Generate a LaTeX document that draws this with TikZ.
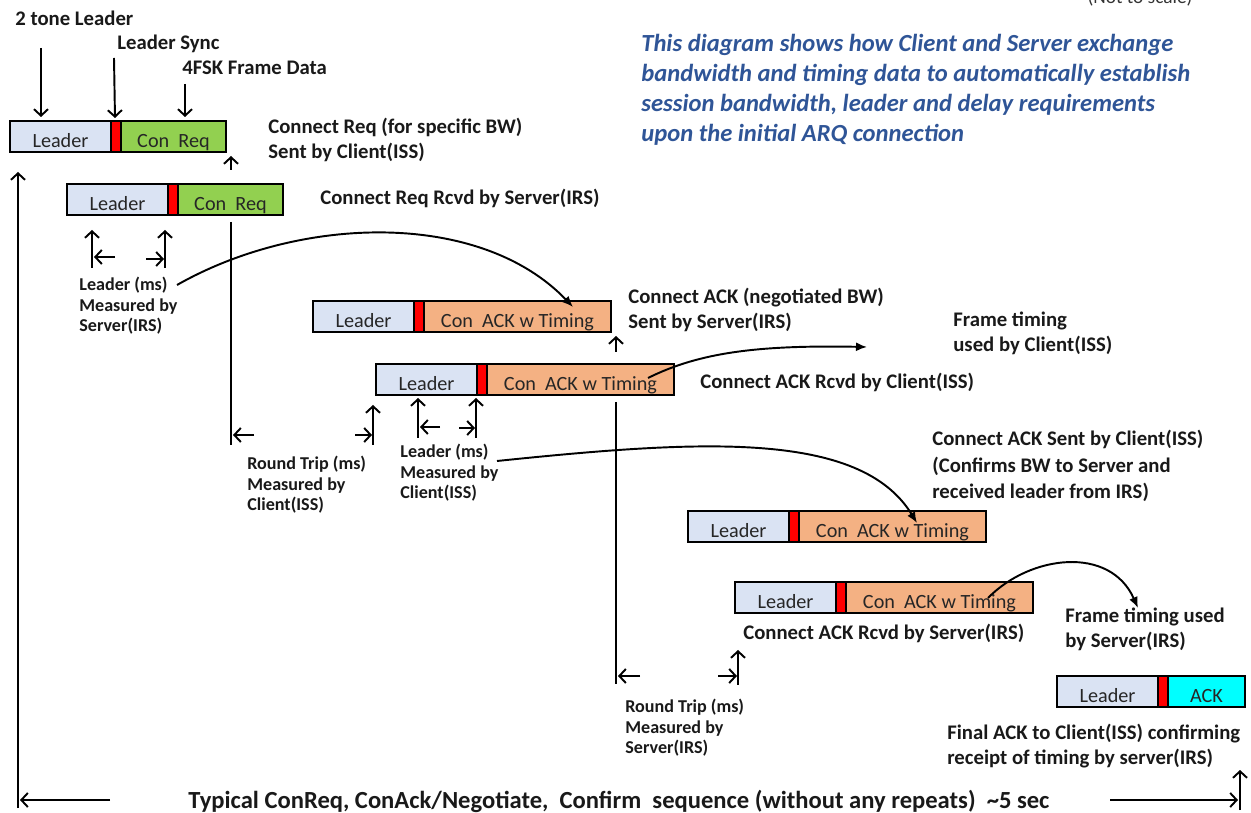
\documentclass[tikz,border=0pt]{standalone}
\usepackage{fontspec}
\setmainfont{Carlito}
\usetikzlibrary{positioning,arrows.meta}

\definecolor{leaderblue}{HTML}{DAE3F3}
\definecolor{syncred}{HTML}{FF0000}
\definecolor{reqgreen}{HTML}{92D050}
\definecolor{ackorange}{HTML}{F4B183}
\definecolor{ackcyan}{HTML}{00FFFF}
\definecolor{noteblue}{HTML}{2F5597}

\tikzset{
  seg/.style={draw=black, line width=1.3pt, minimum height=0.62cm, inner sep=0pt, outer sep=0pt,
    text height=12pt, text depth=0pt, font=\fontsize{11.5}{13}\selectfont, text=black!85},
  leader/.style={seg, fill=leaderblue, minimum width=2.02cm},
  sync/.style={seg, fill=syncred, minimum width=0.2cm},
  conreq/.style={seg, fill=reqgreen, minimum width=2.1cm},
  conack/.style={seg, fill=ackorange, minimum width=3.74cm},
  ack/.style={seg, fill=ackcyan, minimum width=1.54cm},
  lbl/.style={anchor=west, align=left, inner sep=0pt, text=black!90,
    font=\bfseries\fontsize{11.8}{14.4}\selectfont},
  small/.style={lbl, font=\bfseries\fontsize{10.3}{11.7}\selectfont},
  arr/.style={-{Straight Barb[length=1.3mm,width=2.8mm]}, line width=1.1pt},
  curve/.style={-{Latex[length=2.2mm,width=1.8mm]}, line width=1.1pt},
}

\begin{document}
\begin{tikzpicture}[x=0.02cm, y=-0.02cm]

    \useasboundingbox (0,0) rectangle (1251,813);

    % frames
    \node[leader, anchor=north west] (l1) at (10,121) {Leader};
    \node[sync, right=0pt of l1] (s1) {};
    \node[conreq, right=0pt of s1] (d1) {Con~ Req};

    \node[leader, anchor=north west] (l2) at (67,184) {Leader};
    \node[sync, right=0pt of l2] (s2) {};
    \node[conreq, right=0pt of s2] (d2) {Con~ Req};

    \node[leader, anchor=north west] (l3) at (313,301) {Leader};
    \node[sync, right=0pt of l3] (s3) {};
    \node[conack, right=0pt of s3] (d3) {Con~ ACK w Timing};

    \node[leader, anchor=north west] (l4) at (376,364) {Leader};
    \node[sync, right=0pt of l4] (s4) {};
    \node[conack, right=0pt of s4] (d4) {Con~ ACK w Timing};

    \node[leader, anchor=north west] (l5) at (688,511) {Leader};
    \node[sync, right=0pt of l5] (s5) {};
    \node[conack, right=0pt of s5] (d5) {Con~ ACK w Timing};

    \node[leader, anchor=north west] (l6) at (735,582) {Leader};
    \node[sync, right=0pt of l6] (s6) {};
    \node[conack, right=0pt of s6] (d6) {Con~ ACK w Timing};

    \node[leader, anchor=north west] (l7) at (1057,676) {Leader};
    \node[sync, right=0pt of l7] (s7) {};
    \node[ack, right=0pt of s7] (d7) {ACK};

    % labels
    \node[lbl] (tone) at (15,18) {2 tone Leader};
    \node[lbl] (synclbl) at (117,44) {Leader Sync};
    \node[lbl] (fsk) at (182,68) {4FSK Frame Data};
    \node[lbl] (reqsent) at (268,140) {Connect Req (for specific BW)\\Sent by Client(ISS)};
    \node[lbl] (reqrcvd) at (320,198) {Connect Req Rcvd by Server(IRS)};
    \node[lbl] (acksent) at (628,310) {Connect ACK (negotiated BW)\\Sent by Server(IRS)};
    \node[lbl] (ftclient) at (953,333) {Frame timing\\used by Client(ISS)};
    \node[lbl] (ackrcvd) at (700,382) {Connect ACK Rcvd by Client(ISS)};
    \node[lbl, font=\bfseries\fontsize{11.8}{15}\selectfont] (confirm) at (932,466) {Connect ACK Sent by Client(ISS)\\(Confirms BW to Server and\\received leader from IRS)};
    \node[lbl] (ackrcvd2) at (743,633) {Connect ACK Rcvd by Server(IRS)};
    \node[lbl] (ftserver) at (1065,629) {Frame timing used\\by Server(IRS)};
    \node[lbl] (final) at (947,746) {Final ACK to Client(ISS) confirming\\receipt of timing by server(IRS)};
    \node[lbl, font=\bfseries\fontsize{14}{16}\selectfont] (total) at (188,801) {Typical ConReq, ConAck/Negotiate,~ Confirm~ sequence (without any repeats)~ \textasciitilde5 sec};
    \node[font=\fontsize{11}{13}\selectfont, text=black!80] (scale) at (1140,-2) {(Not to scale)};
    \node[lbl, text=noteblue, font=\bfseries\itshape\fontsize{14}{17}\selectfont] (note) at (641,90)
      {This diagram shows how Client and Server exchange\\bandwidth and timing data to automatically establish\\session bandwidth, leader and delay requirements\\upon the initial ARQ connection};

    \node[small] (lms1) at (79,306) {Leader (ms)\\Measured by\\Server(IRS)};
    \node[small] (rt1) at (247,485) {Round Trip (ms)\\Measured by\\Client(ISS)};
    \node[small] (lms2) at (400,473) {Leader (ms)\\Measured by\\Client(ISS)};
    \node[small] (rt2) at (625,728) {Round Trip (ms)\\Measured by\\Server(IRS)};

    % pointers to the first frame
    \draw[arr] (41,48) -- (41,117);
    \draw[arr] (114,58) -- (115,118);
    \draw[arr] (185,84) -- (185,117);
    \draw[arr] (231,170) -- (231,156);
    \draw[arr] (616,352) -- (616,336);

    % leader measured by server
    \draw[arr] (92,268) -- (92,230);
    \draw[arr] (115,257) -- (94,257);
    \draw[arr] (165,268) -- (165,230);
    \draw[arr] (146,259) -- (164,259);

    % round trip measured by client
    \draw[line width=1.1pt] (231,222) -- (231,445);
    \draw[arr] (254,435) -- (233,435);
    \draw[arr] (373,445) -- (373,405);
    \draw[arr] (355,435) -- (372,435);

    % leader measured by client
    \draw[arr] (418,438) -- (418,398);
    \draw[arr] (440,427) -- (420,427);
    \draw[arr] (476,438) -- (476,398);
    \draw[arr] (459,428) -- (475,428);

    % round trip measured by server
    \draw[line width=1.1pt] (616,402) -- (616,684);
    \draw[arr] (640,676) -- (618,676);
    \draw[arr] (738,685) -- (738,650);
    \draw[arr] (718,676) -- (737,676);

    % curves
    \draw[curve] (177,285) .. controls (300,215) and (480,210) .. (573,307);
    \draw[curve] (648,378) .. controls (700,352) and (760,345) .. (867,347);
    \draw[curve] (497,461) .. controls (700,440) and (860,430) .. (917,523);
    \draw[curve] (988,598) .. controls (1030,555) and (1110,545) .. (1138,608);

    % overall sequence
    \draw[arr] (18,808) -- (18,172);
    \draw[arr] (110,800) -- (20,800);
    \draw[arr] (1110,800) -- (1238,800);
    \draw[arr] (1240,810) -- (1240,770);

\end{tikzpicture}
\end{document}
